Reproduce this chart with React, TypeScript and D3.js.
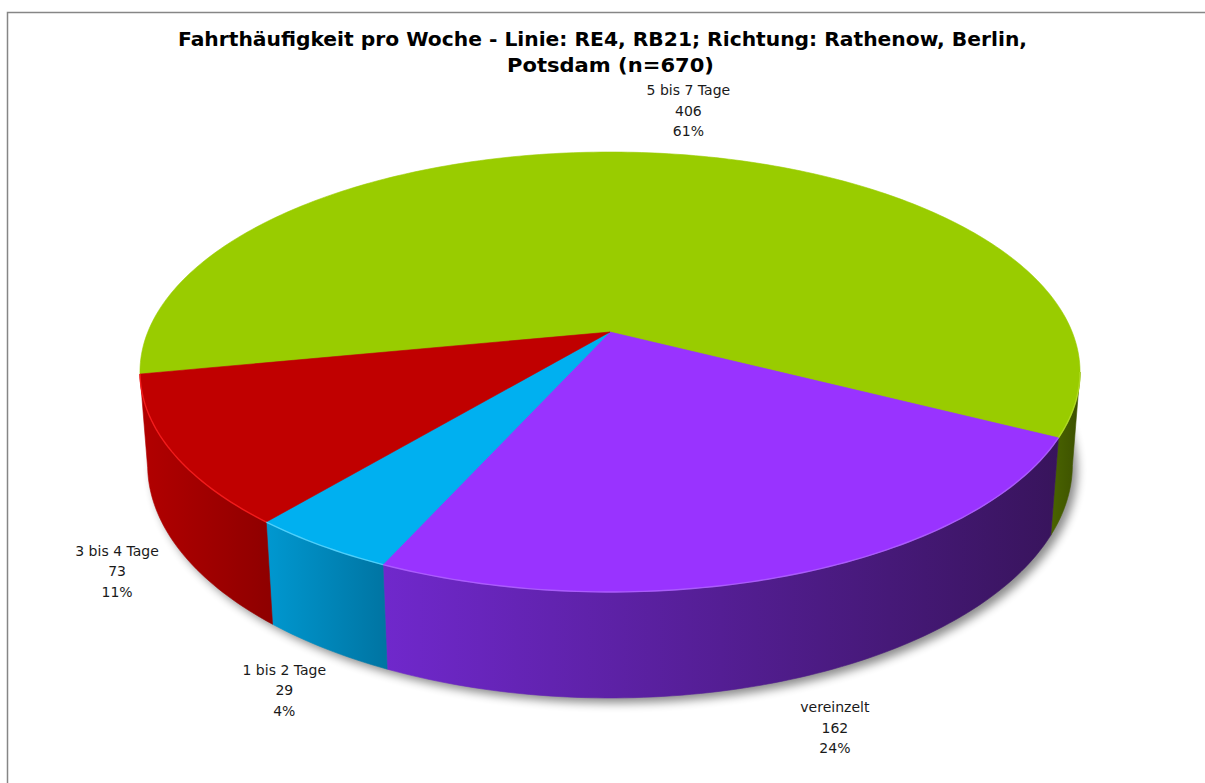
import React from 'react';
import * as d3 from 'd3';

const categories = ['5 bis 7 Tage', 'vereinzelt', '1 bis 2 Tage', '3 bis 4 Tage'];
const counts = [406, 162, 29, 73];
const percents = ['61%', '24%', '4%', '11%'];
const topColors = ['#99CC00', '#9933FF', '#00B0F0', '#C00000'];
const sideColors = [['#4A6400', '#3C5000'], ['#7028CC', '#38145C'], ['#0098D0', '#0074A2'], ['#B20000', '#8E0000']];
const rimColors = ['#B8E02A', '#B266FF', '#60D8FF', '#FF2020'];
const titleLines = ['Fahrthäufigkeit pro Woche - Linie: RE4, RB21; Richtung: Rathenow, Berlin,', 'Potsdam (n=670)'];

const W = 1205;
const H = 783;

// perspective of the tilted pie
const cx = 610, cy = 332;
const ax = 462.2, by = 212.7, k = 0.1818, m = 0.016, depth = 92.6;
const startDeg = -101;
const frontFrom = 100.5, frontTo = 259.5;
const labelDx = 10;

const rad = (deg: number) => (deg * Math.PI) / 180;

function proj(u: number, v: number, d: number): [number, number] {
  const w = 1 + k * v + m * d;
  return [cx + (ax * u) / w, cy + (-by * v + depth * d) / w];
}

function arcPts(a0: number, a1: number, d: number, r = 1): [number, number][] {
  const n = Math.max(2, Math.ceil(Math.abs(a1 - a0)));
  return d3.range(n + 1).map(i => {
    const a = rad(a0 + ((a1 - a0) * i) / n);
    return proj(r * Math.sin(a), r * Math.cos(a), d);
  });
}

const line = d3.line();

export default function App() {
  const pie = d3.pie<number>().sort(null)
    .startAngle(rad(startDeg)).endAngle(rad(startDeg + 360));
  const arcs = pie(counts).map((p, i) => ({
    i,
    a0: (p.startAngle * 180) / Math.PI,
    a1: (p.endAngle * 180) / Math.PI,
  }));

  const sides = arcs.map(s => {
    const f0 = Math.max(s.a0, frontFrom);
    const f1 = Math.min(s.a1, frontTo);
    if (f1 <= f0) return null;
    const top = arcPts(f0, f1, 0);
    const bottom = arcPts(f1, f0, 1);
    const xs = [...top, ...bottom].map(p => p[0]);
    return { i: s.i, d: line([...top, ...bottom])! + 'Z', rim: line(top)!, x0: d3.min(xs)!, x1: d3.max(xs)! };
  }).filter(Boolean) as { i: number; d: string; rim: string; x0: number; x1: number }[];

  const tops = arcs.map(s => ({
    i: s.i,
    d: line([proj(0, 0, 0), ...arcPts(s.a0, s.a1, 0)])! + 'Z',
  }));

  const shadow = line(arcPts(0, 360, 1, 1.0))! + 'Z';

  const labels = arcs.map(s => {
    const mid = rad((s.a0 + s.a1) / 2);
    const u = Math.sin(mid), v = Math.cos(mid);
    const front = v < 0;
    const [x, y] = front ? proj(1.15 * u, 1.15 * v, 1) : proj(1.3 * u, 1.3 * v, 0);
    return { i: s.i, x: x + labelDx, y };
  });

  return (
    <svg width={W} height={H} style={{ position: 'absolute', left: 0, top: 0, background: '#fff' }}
      fontFamily="'DejaVu Sans', sans-serif">
      <defs>
        <filter id="blur" x="-20%" y="-20%" width="140%" height="140%">
          <feGaussianBlur stdDeviation="5" />
        </filter>
        {sides.map(s => (
          <linearGradient key={s.i} id={`side${s.i}`} gradientUnits="userSpaceOnUse" x1={s.x0} x2={s.x1} y1={0} y2={0}>
            <stop offset="0" stopColor={sideColors[s.i][0]} />
            <stop offset="1" stopColor={sideColors[s.i][1]} />
          </linearGradient>
        ))}
      </defs>
      <rect x={0} y={0} width={W} height={H} fill="#fff" />
      <path d={`M7.5,${H}V12.5H${W}`} fill="none" stroke="#868686" strokeWidth={1.5} />

      <g fontWeight="bold" fontSize={19} fill="#000" textAnchor="middle">
        <text x={602.5} y={46} textLength={849} lengthAdjust="spacingAndGlyphs">{titleLines[0]}</text>
        <text x={610.5} y={72} textLength={207} lengthAdjust="spacingAndGlyphs">{titleLines[1]}</text>
      </g>

      <path d={shadow} fill="#000" opacity={0.45} filter="url(#blur)" transform="translate(5,5)" />

      {sides.map(s => (
        <path key={s.i} d={s.d} fill={`url(#side${s.i})`} stroke={`url(#side${s.i})`} strokeWidth={0.6} />
      ))}
      {tops.map(t => (
        <path key={t.i} d={t.d} fill={topColors[t.i]} stroke={topColors[t.i]} strokeWidth={0.6} strokeLinejoin="round" />
      ))}
      {sides.map(s => (
        <path key={s.i} d={s.rim} fill="none" stroke={rimColors[s.i]} strokeWidth={1.4} opacity={0.8} />
      ))}

      <g fontSize={14} fill="#1a1a1a" textAnchor="middle">
        {labels.map(l => (
          <text key={l.i} x={l.x} y={l.y - 15}>
            <tspan x={l.x} dy={0}>{categories[l.i]}</tspan>
            <tspan x={l.x} dy={20.5}>{counts[l.i]}</tspan>
            <tspan x={l.x} dy={20.5}>{percents[l.i]}</tspan>
          </text>
        ))}
      </g>
    </svg>
  );
}
